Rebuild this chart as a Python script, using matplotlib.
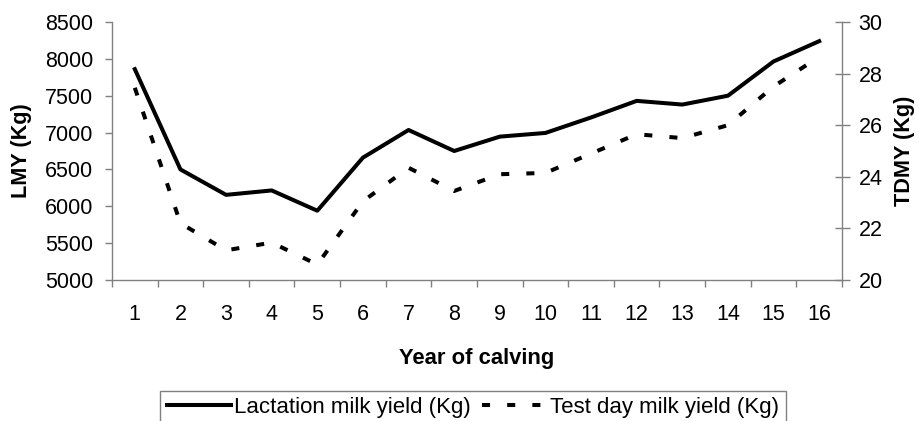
import matplotlib
matplotlib.use('Agg')
import matplotlib.pyplot as plt
import numpy as np
from matplotlib.ticker import FixedLocator, NullFormatter

# ---- data ----
years = list(range(1, 17))
year_labels = [str(y) for y in years]
lmy = [7860, 6500, 6155, 6215, 5940, 6660, 7035, 6750, 6945, 6995, 7205, 7430, 7380, 7500, 7965, 8240]
tdmy = [27.45, 22.2, 21.15, 21.45, 20.6, 23.05, 24.35, 23.45, 24.1, 24.15, 24.9, 25.65, 25.5, 26.0, 27.5, 28.65]
lmy_ticks = [5000, 5500, 6000, 6500, 7000, 7500, 8000, 8500]
tdmy_ticks = [20, 22, 24, 26, 28, 30]
series_names = ['Lactation milk yield (Kg)', 'Test day milk yield (Kg)']

plt.rcParams['font.family'] = ['Liberation Sans', 'DejaVu Sans']
GRAY = '#808080'
W, H = 920, 421

fig = plt.figure(figsize=(W / 100, H / 100), dpi=100)
ax = fig.add_axes([112 / W, 1 - 280 / H, 730 / W, 258 / H])
ax2 = ax.twinx()

l1, = ax.plot(years, lmy, color='black', lw=2.9, label=series_names[0])
l2, = ax2.plot(years, tdmy, color='black', lw=2.9, linestyle=(0, (2, 4.25)),
               dash_capstyle='butt', label=series_names[1])

ax.set_xlim(0.5, 16.5)
ax.set_ylim(5000, 8500)
ax2.set_ylim(20, 30)

ax.xaxis.set_major_locator(FixedLocator(np.arange(0.5, 17, 1)))
ax.xaxis.set_major_formatter(NullFormatter())
ax.set_xticks(years, minor=True)
ax.set_xticklabels(year_labels, minor=True)
ax.tick_params(axis='x', which='minor', length=0, pad=17, labelsize=15.5)
ax.tick_params(axis='x', which='major', length=5, width=1, color=GRAY, direction='out')

ax.set_yticks(lmy_ticks)
ax.set_yticklabels([str(v) for v in lmy_ticks])
ax.tick_params(axis='y', length=5, width=1, color=GRAY, direction='out', pad=8.5, labelsize=15.5)

ax2.set_yticks(tdmy_ticks)
ax2.set_yticklabels([str(v) for v in tdmy_ticks])
ax2.tick_params(axis='y', length=10.8, width=1, color=GRAY, direction='inout', pad=6.5, labelsize=15.5)

for a in (ax, ax2):
    a.spines['top'].set_visible(False)
    for s in a.spines.values():
        s.set_color(GRAY)
        s.set_linewidth(1)
ax.spines['right'].set_visible(False)
ax2.spines['left'].set_visible(False)
ax2.spines['bottom'].set_visible(False)

fig.text(21.7 / W, 1 - 150.5 / H, 'LMY (Kg)', rotation=90, ha='center', va='center',
         fontsize=15.6, fontweight='bold')
fig.text(905 / W, 1 - 151 / H, 'TDMY (Kg)', rotation=90, ha='center', va='center',
         fontsize=15.6, fontweight='bold')
fig.text(477 / W, 1 - 363.6 / H, 'Year of calving', ha='center', va='baseline',
         fontsize=15.8, fontweight='bold')

leg = fig.legend(handles=[l1, l2], loc='upper center', bbox_to_anchor=(0.514, 1 - 390.5 / H),
                 ncol=2, frameon=True, fontsize=16, handlelength=2.9, handletextpad=0.15,
                 columnspacing=0.5, borderpad=0.3, borderaxespad=0, fancybox=False,
                 edgecolor=GRAY, framealpha=1)
leg.get_frame().set_linewidth(1.0)

fig.savefig('out.png', dpi=100)
